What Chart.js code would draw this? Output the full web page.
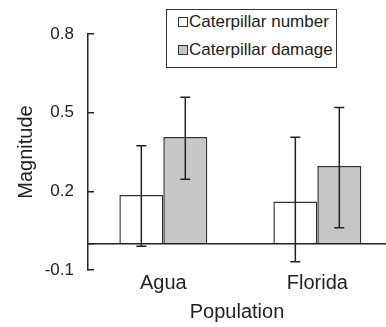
<!DOCTYPE html>
<html>
<head>
<meta charset="utf-8">
<script src="https://cdn.jsdelivr.net/npm/chart.js@4/dist/chart.umd.min.js"></script>
<style>
    html, body { margin: 0; padding: 0; background: #fff; }
    #wrap { position: relative; width: 386px; height: 327px; }
    #legend {
        position: absolute; left: 166px; top: 9px; width: 171px; height: 59px;
        box-sizing: border-box; border: 1.5px solid #333; background: #fff;
        font-family: "Liberation Sans", Arial, sans-serif; font-size: 17px; color: #222;
    }
    #legend .row { position: absolute; left: 10.5px; height: 20px; line-height: 20px; display: flex; align-items: center; white-space: nowrap; }
    #legend .box { width: 8px; height: 8px; border: 1px solid #333; margin-right: 1.5px; }
</style>
</head>
<body>
<div id="wrap">
    <canvas id="magnitudeChart" width="386" height="327"></canvas>
    <div id="legend"></div>
</div>
<script>
const categories = ['Agua', 'Florida'];
const yTicks = [-0.1, 0, 0.2, 0.5, 0.8];

const numberValues = [0.186, 0.161];
const numberLow = [-0.009, -0.069];
const numberHigh = [0.374, 0.406];

const damageValues = [0.407, 0.297];
const damageLow = [0.246, 0.061];
const damageHigh = [0.559, 0.520];

const FONT = '"Liberation Sans", Arial, sans-serif';
const INK = '#222';

// error bars drawn with the chart scales
const errorBars = {
    id: 'errorBars',
    afterDatasetsDraw(chart) {
        const ctx = chart.ctx;
        const yScale = chart.scales.y;
        ctx.save();
        ctx.strokeStyle = INK;
        ctx.lineWidth = 1.5;
        chart.data.datasets.forEach((ds, i) => {
            const meta = chart.getDatasetMeta(i);
            meta.data.forEach((bar, j) => {
                const yLo = yScale.getPixelForValue(ds.errLow[j]);
                const yHi = yScale.getPixelForValue(ds.errHigh[j]);
                ctx.beginPath();
                ctx.moveTo(bar.x, yLo);
                ctx.lineTo(bar.x, yHi);
                ctx.moveTo(bar.x - 5, yLo);
                ctx.lineTo(bar.x + 5, yLo);
                ctx.moveTo(bar.x - 5, yHi);
                ctx.lineTo(bar.x + 5, yHi);
                ctx.stroke();
            });
        });
        ctx.restore();
    }
};

const chartItem = document.getElementById('magnitudeChart');
const magnitudeChart = new Chart(chartItem, {
    type: 'bar',
    data: {
        datasets: [{
            label: 'Caterpillar number',
            data: numberValues.map((v, i) => ({ x: i, y: v })),
            errLow: numberLow,
            errHigh: numberHigh,
            backgroundColor: '#ffffff',
            borderColor: '#333',
            borderWidth: 1.5
        },
        {
            label: 'Caterpillar damage',
            data: damageValues.map((v, i) => ({ x: i, y: v })),
            errLow: damageLow,
            errHigh: damageHigh,
            backgroundColor: '#c6c6c6',
            borderColor: '#333',
            borderWidth: 1.5
        }]
    },
    options: {
        responsive: false,
        animation: false,
        layout: {
            padding: { top: 34, right: 0, bottom: 0, left: 0 }
        },
        datasets: {
            bar: {
                categoryPercentage: 0.571,
                barPercentage: 1
            }
        },
        plugins: {
            legend: { display: false },
            tooltip: { enabled: false }
        },
        scales: {
            x: {
                type: 'linear',
                min: -0.489,
                max: 1.446,
                offset: false,
                border: { display: false },
                grid: { display: false, drawTicks: false, offset: false },
                afterBuildTicks: (scale) => {
                    scale.ticks = categories.map((c, i) => ({ value: i }));
                },
                afterFit: (scale) => {
                    scale.height = 57;
                },
                ticks: {
                    padding: 1,
                    color: INK,
                    font: { family: FONT, size: 20 },
                    callback: (value) => categories[value]
                },
                title: {
                    display: true,
                    text: 'Population',
                    color: INK,
                    font: { family: FONT, size: 20 },
                    padding: { top: 0, bottom: 3 }
                }
            },
            y: {
                min: -0.1,
                max: 0.8,
                border: { display: true, color: INK, width: 1.5 },
                grid: {
                    drawOnChartArea: true,
                    tickLength: -6,
                    tickColor: INK,
                    tickWidth: 1.5,
                    lineWidth: 1.5,
                    color: (ctx) => (ctx.tick && ctx.tick.value === 0 ? INK : 'rgba(0,0,0,0)')
                },
                afterBuildTicks: (scale) => {
                    scale.ticks = yTicks.map((v) => ({ value: v }));
                },
                afterFit: (scale) => {
                    scale.width = 88;
                },
                ticks: {
                    padding: 20,
                    color: INK,
                    font: { family: FONT, size: 17 },
                    callback: (value) => (value === 0 ? '' : value.toFixed(1))
                },
                title: {
                    display: true,
                    text: 'Magnitude',
                    color: INK,
                    font: { family: FONT, size: 20 },
                    padding: { top: 14, bottom: 0 }
                }
            }
        }
    },
    plugins: [errorBars]
});

// legend box built from the datasets
const legendEl = document.getElementById('legend');
magnitudeChart.data.datasets.forEach((ds, i) => {
    const row = document.createElement('div');
    row.className = 'row';
    row.style.top = (1.5 + i * 28) + 'px';
    const box = document.createElement('span');
    box.className = 'box';
    box.style.background = ds.backgroundColor;
    const text = document.createElement('span');
    text.textContent = ds.label;
    row.appendChild(box);
    row.appendChild(text);
    legendEl.appendChild(row);
});
</script>
</body>
</html>
